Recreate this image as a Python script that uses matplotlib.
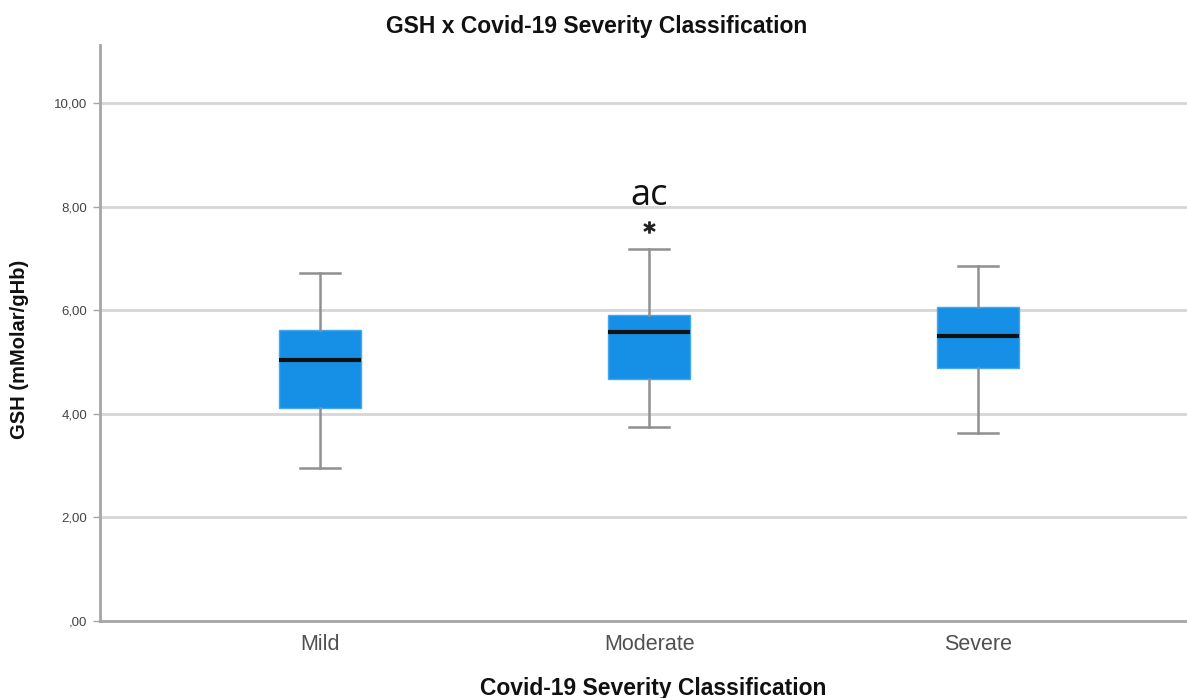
import matplotlib
matplotlib.use("Agg")
import matplotlib.pyplot as plt
from matplotlib.ticker import FuncFormatter

# --- данные ---
categories = ["Mild", "Moderate", "Severe"]
whisker_low = [2.95, 3.75, 3.62]
q1 = [4.12, 4.67, 4.89]
median = [5.03, 5.57, 5.50]
q3 = [5.62, 5.91, 6.06]
whisker_high = [6.71, 7.18, 6.85]
outliers = [[], [7.61], []]
annotations = ["", "ac", ""]
y_ticks = [0, 2, 4, 6, 8, 10]

plt.rcParams["font.family"] = ["Liberation Sans", "DejaVu Sans"]

W, H = 1187, 698
fig = plt.figure(figsize=(W / 100, H / 100), dpi=100)
ax = fig.add_axes([100 / W, 77 / H, 1087 / W, 576 / H])

stats = []
for i, name in enumerate(categories):
    stats.append(dict(label=name, whislo=whisker_low[i], q1=q1[i], med=median[i],
                      q3=q3[i], whishi=whisker_high[i], fliers=outliers[i]))

positions = list(range(len(categories)))
ax.bxp(stats, positions=positions, widths=0.25, capwidths=0.12,
       patch_artist=True, manage_ticks=False,
       boxprops=dict(facecolor="#1590e6", edgecolor="#45a8ee", linewidth=1),
       whiskerprops=dict(color="#909090", linewidth=1.8),
       capprops=dict(color="#909090", linewidth=1.8),
       medianprops=dict(color="#111111", linewidth=3),
       flierprops=dict(marker="$*$", markersize=8, markerfacecolor="#222222",
                       markeredgecolor="#222222", linestyle="none"))

for i, txt in enumerate(annotations):
    if txt:
        ax.text(positions[i], 8.2, txt, ha="center", va="center",
                fontsize=26, family=["Open Sans", "DejaVu Sans"], color="#111111")

ax.set_xlim(-0.669, 2.635)
ax.set_ylim(0, 11.12)
ax.set_yticks(y_ticks)
ax.yaxis.set_major_formatter(FuncFormatter(
    lambda v, _: ",00" if v == 0 else f"{v:.2f}".replace(".", ",")))
ax.set_xticks(positions)
ax.set_xticklabels(categories)

# сетка
for v in y_ticks[1:]:
    ax.axhline(v, color="#d6d6d6", linewidth=2, zorder=0)

for s in ("top", "right"):
    ax.spines[s].set_visible(False)
for s in ("left", "bottom"):
    ax.spines[s].set_color("#a6a6a6")
    ax.spines[s].set_linewidth(2)

ax.tick_params(axis="y", length=5, width=1, color="#a6a6a6",
               labelsize=9.5, labelcolor="#444444", pad=4)
ax.tick_params(axis="x", length=0, labelsize=15.5, labelcolor="#505050", pad=9)

fig.text(597 / W, 1 - 27 / H, "GSH x Covid-19 Severity Classification",
         ha="center", va="center", fontsize=16.5, fontweight="bold", color="#111111")
fig.text(653 / W, 1 - 688 / H, "Covid-19 Severity Classification",
         ha="center", va="center", fontsize=16.5, fontweight="bold", color="#111111")
fig.text(20 / W, 1 - 349 / H, "GSH (mMolar/gHb)", rotation=90,
         ha="center", va="center", fontsize=14.5, fontweight="bold", color="#111111")

fig.savefig("out.png", dpi=100)
